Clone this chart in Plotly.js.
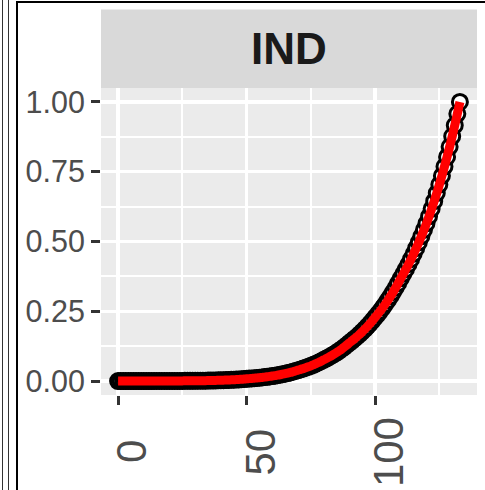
<!DOCTYPE html>
<html>
<head>
<meta charset="utf-8">
<script src="https://cdn.plot.ly/plotly-3.0.1.min.js"></script>
<style>
  html, body { margin: 0; padding: 0; background: #ffffff; }
  #wrap { position: relative; width: 485px; height: 490px; overflow: hidden; }
  #chart { position: absolute; left: 0; top: 0; width: 485px; height: 490px; }
  .ln { position: absolute; background: #000; }
</style>
</head>
<body>
<div id="wrap">
  <div id="chart"></div>
  <div class="ln" style="left:2px; top:0; width:1px; height:490px; background:#333;"></div>
  <div class="ln" style="left:8px; top:0; width:1px; height:490px; background:#333;"></div>
  <div class="ln" style="left:16px; top:1px; width:2px; height:489px;"></div>
  <div class="ln" style="left:16px; top:1px; width:469px; height:2px;"></div>
</div>
<script>
// ---- data ----
const panelLabel = "IND";
const xValues = [
  0,1,2,3,4,5,6,7,8,9,10,11,12,13,14,15,16,17,18,19,
  20,21,22,23,24,25,26,27,28,29,30,31,32,33,34,35,36,37,38,39,
  40,41,42,43,44,45,46,47,48,49,50,51,52,53,54,55,56,57,58,59,
  60,61,62,63,64,65,66,67,68,69,70,71,72,73,74,75,76,77,78,79,
  80,81,82,83,84,85,86,87,88,89,90,91,92,93,94,95,96,97,98,99,
  100,101,102,103,104,105,106,107,108,109,110,111,112,113,114,115,116,117,118,119,
  120,121,122,123,124,125,126,127,128,129,130,131,132,133
];
const yValues = [
  0.0000,0.0000,0.0000,0.0000,0.0000,0.0000,0.0000,0.0000,0.0000,0.0000,
  0.0001,0.0001,0.0001,0.0001,0.0002,0.0002,0.0002,0.0003,0.0003,0.0003,
  0.0004,0.0004,0.0005,0.0005,0.0006,0.0006,0.0007,0.0007,0.0008,0.0009,
  0.0010,0.0011,0.0012,0.0014,0.0015,0.0017,0.0019,0.0021,0.0023,0.0026,
  0.0029,0.0032,0.0035,0.0039,0.0043,0.0048,0.0053,0.0059,0.0065,0.0072,
  0.0080,0.0087,0.0094,0.0102,0.0110,0.0120,0.0130,0.0141,0.0153,0.0166,
  0.0180,0.0194,0.0210,0.0227,0.0245,0.0264,0.0285,0.0308,0.0333,0.0360,
  0.0390,0.0417,0.0446,0.0476,0.0509,0.0544,0.0582,0.0622,0.0665,0.0711,
  0.0760,0.0806,0.0855,0.0907,0.0962,0.1020,0.1082,0.1148,0.1218,0.1292,
  0.1370,0.1442,0.1517,0.1596,0.1679,0.1767,0.1859,0.1956,0.2058,0.2166,
  0.2280,0.2392,0.2509,0.2632,0.2761,0.2896,0.3038,0.3187,0.3343,0.3507,
  0.3680,0.3841,0.4009,0.4185,0.4368,0.4560,0.4760,0.4968,0.5186,0.5413,
  0.5650,0.5904,0.6169,0.6446,0.6736,0.7039,0.7355,0.7686,0.8031,0.8392,
  0.8769,0.9163,0.9575,1.0000
];
const xTickVals = [0, 50, 100];
const xTickText = ["0", "50", "100"];
const yTickVals = [0, 0.25, 0.5, 0.75, 1];
const yTickText = ["0.00", "0.25", "0.50", "0.75", "1.00"];

// ---- figure ----
const FONT = "Liberation Sans, Arial, sans-serif";
const plotH = 307; // px height of panel
const stripTopPx = 9.5, panelTopPx = 88;

const traces = [
  {
    x: xValues, y: yValues, type: "scatter", mode: "markers",
    marker: { symbol: "circle", size: 15, color: "#ffffff", line: { color: "#000000", width: 3 } },
    hoverinfo: "skip", showlegend: false
  },
  {
    x: xValues, y: yValues, type: "scatter", mode: "lines",
    line: { color: "#ff0000", width: 9, shape: "spline" },
    hoverinfo: "skip", showlegend: false
  }
];

const annotations = [
  {
    text: "<b>" + panelLabel + "</b>", xref: "paper", yref: "paper",
    x: 0.5, y: 1 + (panelTopPx - (stripTopPx + panelTopPx) / 2) / plotH,
    xanchor: "center", yanchor: "middle", showarrow: false,
    font: { family: FONT, size: 44, color: "#1A1A1A" }
  }
];
xTickVals.forEach((v, i) => {
  annotations.push({
    text: xTickText[i], xref: "x", yref: "paper", x: v, y: (395 - 452) / plotH,
    xanchor: "center", yanchor: "middle", xshift: 13, textangle: -90, showarrow: false,
    font: { family: FONT, size: 42, color: "#4D4D4D" }
  });
});

const layout = {
  width: 485, height: 490,
  margin: { l: 101, r: 7.5, t: panelTopPx, b: 95, pad: 0 },
  paper_bgcolor: "rgba(0,0,0,0)",
  plot_bgcolor: "#EBEBEB",
  showlegend: false,
  xaxis: {
    range: [-6.65, 139.65], tickvals: xTickVals, ticktext: xTickText,
    showticklabels: false, ticks: "outside", ticklen: 9, tickwidth: 3, tickcolor: "#333333",
    showgrid: true, gridcolor: "#FFFFFF", gridwidth: 3.5, zeroline: false, showline: false,
    minor: { tickvals: [25, 75, 125], showgrid: true, gridcolor: "#FFFFFF", gridwidth: 1.8, ticks: "" }
  },
  yaxis: {
    range: [-0.05, 1.05], tickvals: yTickVals, ticktext: yTickText,
    ticks: "outside", ticklen: 9, tickwidth: 3, tickcolor: "#333333",
    tickfont: { family: FONT, size: 30.5, color: "#4D4D4D" },
    ticklabelstandoff: 0,
    showgrid: true, gridcolor: "#FFFFFF", gridwidth: 3.5, zeroline: false, showline: false,
    minor: { tickvals: [0.125, 0.375, 0.625, 0.875], showgrid: true, gridcolor: "#FFFFFF", gridwidth: 1.8, ticks: "" }
  },
  shapes: [
    {
      type: "rect", xref: "paper", yref: "paper", layer: "below",
      x0: 0, x1: 1, y0: 1, y1: 1 + (panelTopPx - stripTopPx) / plotH,
      fillcolor: "#D9D9D9", line: { width: 0 }
    }
  ],
  annotations: annotations
};

Plotly.newPlot("chart", traces, layout, { displayModeBar: false, staticPlot: true });
</script>
</body>
</html>
